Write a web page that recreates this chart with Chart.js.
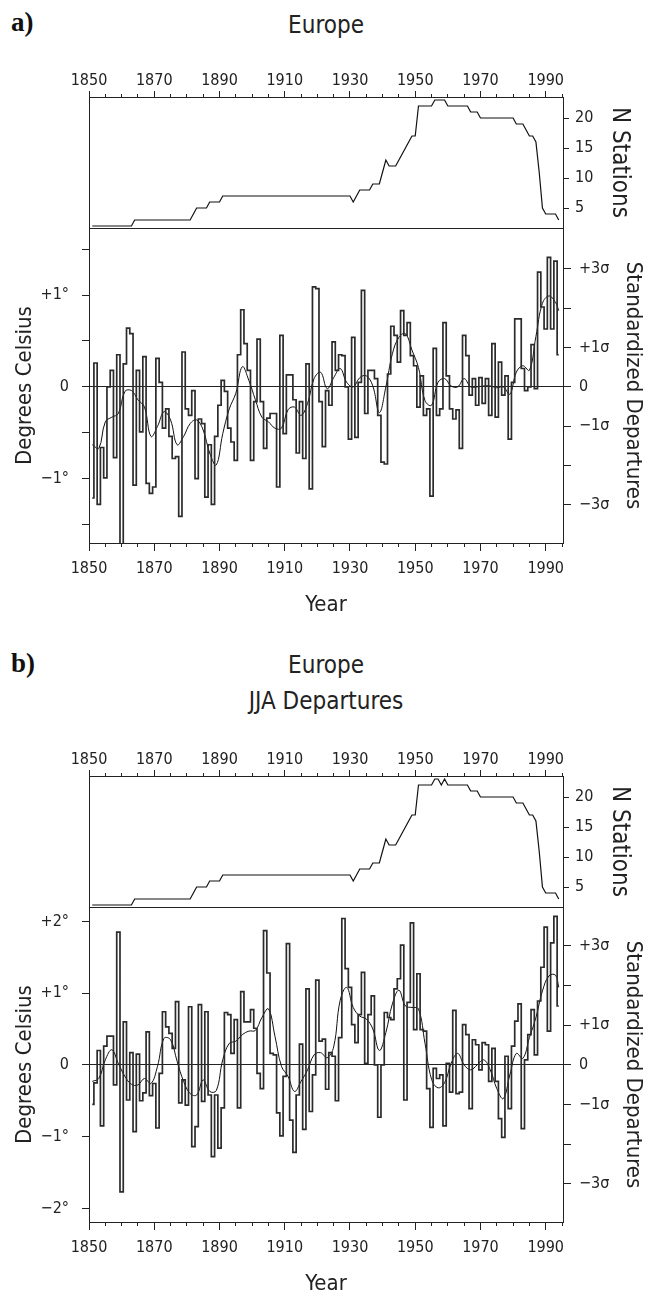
<!DOCTYPE html>
<html>
<head>
<meta charset="utf-8">
<script src="https://cdn.jsdelivr.net/npm/chart.js@4.4.1/dist/chart.umd.min.js"></script>
<style>
  html, body { margin: 0; padding: 0; background: #fff; overflow: hidden; }
  body { width: 648px; height: 1297px; position: relative; }
  canvas { position: absolute; left: 0; }
  .txt { position: absolute; color: #222; font-family: 'Liberation Sans Narrow', 'DejaVu Sans Condensed', sans-serif; white-space: nowrap; line-height: 1; transform: translate(-50%, -50%); }
  .tag { position: absolute; color: #111; font-family: 'Liberation Serif', serif; font-weight: bold; font-size: 27px; line-height: 1; transform: translateY(-50%); }
</style>
</head>
<body>
<div class="tag" style="left:11px; top:22px">a)</div>
<div class="txt" style="left:326px; top:25px; font-size:24px">Europe</div>
<canvas id="nA" width="648" height="175" style="top:55px"></canvas>
<canvas id="tA" width="648" height="400" style="top:220px"></canvas>

<div class="tag" style="left:11px; top:663px">b)</div>
<div class="txt" style="left:326px; top:665px; font-size:24px">Europe</div>
<div class="txt" style="left:326px; top:701px; font-size:24px">JJA Departures</div>
<canvas id="nB" width="648" height="175" style="top:734px"></canvas>
<canvas id="tB" width="648" height="400" style="top:899px"></canvas>

<script>
const FONT = "'Liberation Sans Narrow', 'DejaVu Sans Condensed', 'Liberation Sans', sans-serif";
const INK = '#222';

// years run 1851..1994, one value per year
const firstYear = 1851;
const xMin = 1850;
const xMax = 1995.3;

const yearLabels = [1850, 1870, 1890, 1910, 1930, 1950, 1970, 1990];
const yearMinor = [1850, 1855, 1860, 1865, 1870, 1875, 1880, 1885, 1890, 1895,
                   1900, 1905, 1910, 1915, 1920, 1925, 1930, 1935, 1940, 1945,
                   1950, 1955, 1960, 1965, 1970, 1975, 1980, 1985, 1990, 1995];

const nTicks = [5, 10, 15, 20];
const nLabels = ['5', '10', '15', '20'];
const nMin = 1.67;
const nMax = 23.5;

const degTicksA = [-1.5, -1, -0.5, 0, 0.5, 1, 1.5];
const degLabelsA = ['', '\u22121\u00b0', '', '0', '', '+1\u00b0', ''];
const degTicksB = [-2, -1, 0, 1, 2];
const degLabelsB = ['\u22122\u00b0', '\u22121\u00b0', '0', '+1\u00b0', '+2\u00b0'];
const sigmaTicks = [-3, -2, -1, 0, 1, 2, 3];
const sigmaLabels = ['\u22123\u03c3', '', '\u22121\u03c3', '0', '+1\u03c3', '', '+3\u03c3'];

// number of stations, panel a (annual) and panel b (JJA)
const stationsA = [
  2, 2, 2, 2, 2, 2, 2, 2, 2, 2,
  2, 2, 2, 3, 3, 3, 3, 3, 3, 3,
  3, 3, 3, 3, 3, 3, 3, 3, 3, 3,
  3, 4, 5, 5, 5, 5, 6, 6, 6, 6,
  7, 7, 7, 7, 7, 7, 7, 7, 7, 7,
  7, 7, 7, 7, 7, 7, 7, 7, 7, 7,
  7, 7, 7, 7, 7, 7, 7, 7, 7, 7,
  7, 7, 7, 7, 7, 7, 7, 7, 7, 7,
  6, 7, 8, 8, 8, 8, 9, 9, 9, 11,
  13, 12, 12, 12, 13, 14, 15, 16, 17, 17,
  22, 22, 22, 22, 22, 23, 23, 23, 23, 22,
  22, 22, 22, 22, 22, 22, 21, 21, 21, 20,
  20, 20, 20, 20, 20, 20, 20, 20, 20, 20,
  19, 19, 19, 18, 17, 17, 16, 11, 5, 4,
  4, 4, 4, 3
];
const stationsB = [
  2, 2, 2, 2, 2, 2, 2, 2, 2, 2,
  2, 2, 2, 3, 3, 3, 3, 3, 3, 3,
  3, 3, 3, 3, 3, 3, 3, 3, 3, 3,
  3, 4, 5, 5, 5, 5, 6, 6, 6, 6,
  7, 7, 7, 7, 7, 7, 7, 7, 7, 7,
  7, 7, 7, 7, 7, 7, 7, 7, 7, 7,
  7, 7, 7, 7, 7, 7, 7, 7, 7, 7,
  7, 7, 7, 7, 7, 7, 7, 7, 7, 7,
  6, 7, 8, 8, 8, 8, 9, 9, 9, 11,
  13, 12, 12, 12, 13, 14, 15, 16, 17, 17,
  22, 22, 22, 22, 22, 23, 23, 22, 23, 22,
  22, 22, 22, 22, 22, 22, 21, 21, 21, 20,
  20, 20, 20, 20, 20, 20, 20, 20, 20, 20,
  19, 19, 19, 18, 17, 17, 16, 11, 5, 4,
  4, 4, 4, 3
];

// temperature departures, degrees C
const tempA = [
  -1.21, 0.26, -1.28, -0.66, -0.99, 0.00, 0.18, -0.77, 0.35, -1.75,
  0.25, 0.64, 0.58, -1.07, 0.18, -0.49, 0.33, -1.05, -1.16, -1.09,
  0.31, 0.05, -0.45, -0.24, -0.54, -0.78, -0.76, -1.41, 0.38, -0.24,
  -0.31, -0.04, -1.00, -0.35, -0.40, -1.20, -0.63, -1.28, -0.54, -0.20,
  0.07, -0.05, -0.45, -0.60, -0.80, 0.35, 0.84, 0.47, 0.18, -0.80,
  -0.16, 0.52, -0.16, -0.67, -0.34, -0.29, -0.29, -1.09, 0.56, -0.51,
  0.13, 0.13, -0.14, -0.72, -0.16, -0.78, 0.25, -1.11, 1.09, 1.07,
  -0.16, -0.65, -0.04, -0.20, 0.49, 0.18, 0.35, 0.34, 0.00, -0.57,
  0.54, -0.55, 0.05, 1.05, -0.29, 0.18, 0.18, 0.09, -0.31, -0.82,
  -0.84, 0.14, 0.66, 0.56, 0.27, 0.83, 0.56, 0.70, 0.34, 0.23,
  -0.22, 0.12, -0.31, -0.24, -1.19, 0.42, -0.31, -0.24, 0.70, 0.12,
  -0.24, -0.35, -0.25, -0.67, 0.56, 0.34, -0.09, 0.09, -0.20, 0.10,
  -0.18, 0.09, -0.31, 0.47, -0.33, 0.27, -0.09, 0.12, -0.57, 0.05,
  0.74, 0.74, 0.20, -0.04, 0.00, 0.46, -0.02, 1.25, 0.87, 0.63,
  1.41, 0.63, 1.37, 0.35
];
const tempB = [
  -0.55, -0.25, 0.20, -0.85, 0.26, 0.40, 0.40, -0.28, 1.85, -1.77,
  0.60, -0.49, 0.17, -0.93, 0.15, -0.50, -0.39, 0.46, -0.43, -0.26,
  -0.88, -0.12, 0.74, 0.53, 0.44, 0.23, 0.88, -0.53, -0.21, -0.56,
  0.81, -1.14, -0.86, 0.84, -0.51, 0.74, -0.42, -1.28, -0.42, -1.16,
  -0.60, 0.73, 0.70, 0.16, 0.63, -0.60, 1.02, 0.60, 0.60, 0.77,
  0.51, -0.12, -0.33, 1.87, 1.28, 0.16, 0.14, -0.67, -0.99, -0.16,
  1.69, -0.77, -1.22, -0.42, 0.29, -0.90, 1.06, -0.65, -0.14, 1.18,
  0.33, 0.36, -0.34, 0.17, 0.12, -0.50, 0.38, 2.04, 1.34, 1.08,
  0.56, 0.31, 0.70, 1.29, 0.02, 0.70, 0.96, 0.00, -0.73, 0.00,
  0.73, 0.66, 0.63, 1.06, 1.20, 1.67, -0.49, 0.87, 1.98, 0.49,
  1.27, 0.49, 0.47, -0.33, -0.87, -0.05, -0.19, -0.14, -0.85, 0.02,
  -0.38, 0.76, -0.40, -0.38, 0.56, 0.42, -0.61, 0.35, 0.28, -0.07,
  0.31, 0.28, -0.23, 0.23, -0.23, -0.75, -1.01, 0.12, -0.61, 0.26,
  0.61, 0.85, -0.89, 0.07, 0.42, 0.77, 0.14, 0.89, 1.36, 1.92,
  0.47, 1.70, 2.07, 0.82
];

// smoothed curve
const smoothYears = [
  1851, 1853, 1855, 1857, 1859, 1861, 1863, 1865, 1867, 1869,
  1871, 1873, 1875, 1877, 1879, 1881, 1883, 1885, 1887, 1889,
  1891, 1893, 1895, 1897, 1899, 1901, 1903, 1905, 1907, 1909,
  1911, 1913, 1915, 1917, 1919, 1921, 1923, 1925, 1927, 1929,
  1931, 1933, 1935, 1937, 1939, 1941, 1943, 1945, 1947, 1949,
  1951, 1953, 1955, 1957, 1959, 1961, 1963, 1965, 1967, 1969,
  1971, 1973, 1975, 1977, 1979, 1981, 1983, 1985, 1987, 1989,
  1991, 1993, 1994
];
const smoothA = [
  -0.63, -0.67, -0.38, -0.33, -0.29, -0.05, -0.04, -0.14, -0.22, -0.54,
  -0.43, -0.27, -0.36, -0.63, -0.54, -0.40, -0.36, -0.47, -0.72, -0.85,
  -0.51, -0.24, -0.07, 0.22, 0.07, -0.14, -0.33, -0.38, -0.45, -0.45,
  -0.25, -0.22, -0.31, -0.18, 0.09, 0.16, -0.02, 0.10, 0.20, 0.05,
  0.00, 0.10, 0.12, 0.01, -0.28, 0.00, 0.36, 0.54, 0.58, 0.40,
  0.21, -0.15, -0.20, 0.05, 0.09, 0.01, 0.00, 0.09, 0.00, 0.00,
  0.01, 0.01, -0.01, 0.00, -0.08, 0.16, 0.23, 0.18, 0.55, 0.91,
  0.99, 0.92, 0.83
];
const smoothB = [
  -0.23, -0.19, 0.07, 0.21, 0.02, -0.16, -0.27, -0.28, -0.19, -0.26,
  -0.02, 0.37, 0.35, 0.05, -0.23, -0.40, -0.42, -0.21, -0.37, -0.36,
  0.07, 0.30, 0.33, 0.42, 0.47, 0.48, 0.66, 0.78, 0.40, -0.02,
  -0.16, -0.37, -0.23, -0.07, 0.14, 0.17, 0.10, 0.25, 0.90, 1.08,
  0.80, 0.68, 0.64, 0.50, 0.20, 0.45, 0.85, 1.04, 0.82, 0.80,
  0.78, 0.30, -0.20, -0.32, -0.25, 0.02, 0.16, 0.00, -0.07, 0.00,
  0.07, -0.07, -0.33, -0.47, -0.14, 0.16, 0.09, 0.38, 0.66, 1.03,
  1.24, 1.25, 1.08
];

function points(values) {
  return values.map((v, i) => ({ x: firstYear + i, y: v }));
}

function pairs(xs, ys) {
  return xs.map((x, i) => ({ x: x, y: ys[i] }));
}

// keep label overhang from pushing the plot area around
function noPad(s) {
  s.paddingTop = 0; s.paddingBottom = 0; s.paddingLeft = 0; s.paddingRight = 0;
}
function fixWidth(w) { return s => { s.width = w; noPad(s); }; }
function fixHeight(h) { return s => { s.height = h; noPad(s); }; }
function setTicks(list) { return s => { s.ticks = list.map(v => ({ value: v })); }; }

function tickFont() { return { family: FONT, size: 16 }; }
function titleFont(size) { return { family: FONT, size: size }; }

const common = {
  responsive: false,
  animation: false,
  devicePixelRatio: 1,
  plugins: { legend: { display: false }, tooltip: { enabled: false } }
};

function drawStations(id, values) {
  new Chart(document.getElementById(id), {
    type: 'line',
    data: {
      datasets: [{
        data: points(values),
        borderColor: '#111',
        borderWidth: 1.2,
        pointRadius: 0,
        tension: 0,
        xAxisID: 'x',
        yAxisID: 'yN'
      }]
    },
    options: Object.assign({}, common, {
      layout: { padding: { top: 0, bottom: 2, left: 0, right: 0 } },
      scales: {
        x: {
          type: 'linear', position: 'top', min: xMin, max: xMax,
          afterBuildTicks: setTicks(yearLabels), afterFit: fixHeight(42),
          grid: { drawOnChartArea: false, tickLength: 6, tickColor: INK },
          border: { color: INK, width: 1 },
          ticks: { color: INK, font: tickFont(), padding: 1, maxRotation: 0, autoSkip: false,
                   callback: v => String(v) }
        },
        xMinor: {
          type: 'linear', axis: 'x', position: { yN: nMax }, min: xMin, max: xMax,
          afterBuildTicks: setTicks(yearMinor), afterFit: noPad,
          grid: { drawOnChartArea: false, tickLength: -3, tickColor: INK },
          border: { display: false },
          ticks: { display: false }
        },
        xBottom: {
          type: 'linear', position: 'bottom', min: xMin, max: xMax, afterFit: fixHeight(0),
          grid: { drawOnChartArea: false, drawTicks: false },
          border: { color: INK, width: 1 },
          ticks: { display: false }
        },
        yL: {
          type: 'linear', position: 'left', min: nMin, max: nMax, afterFit: fixWidth(89),
          grid: { drawOnChartArea: false, drawTicks: false },
          border: { color: INK, width: 1 },
          ticks: { display: false }
        },
        yN: {
          type: 'linear', position: 'right', min: nMin, max: nMax, afterFit: fixWidth(85),
          afterBuildTicks: setTicks(nTicks),
          grid: { drawOnChartArea: false, tickLength: 6, tickColor: INK },
          border: { color: INK, width: 1 },
          ticks: { color: INK, font: tickFont(), padding: 6, callback: (v, i) => nLabels[i] },
          title: { display: true, text: 'N Stations', color: INK, font: titleFont(24), padding: { top: 14 } }
        }
      }
    })
  });
}

function drawTemps(id, values, smooth, yMin, yMax, sigma, degTicks, degLabels) {
  new Chart(document.getElementById(id), {
    type: 'line',
    data: {
      datasets: [{
        data: points(values),
        stepped: 'middle',
        borderColor: '#2b2b2b',
        borderWidth: 1.7,
        pointRadius: 0,
        xAxisID: 'x',
        yAxisID: 'y'
      }, {
        data: pairs(smoothYears, smooth),
        borderColor: '#111',
        borderWidth: 1,
        pointRadius: 0,
        tension: 0.4,
        xAxisID: 'x',
        yAxisID: 'y'
      }]
    },
    options: Object.assign({}, common, {
      layout: { padding: { top: 8, bottom: 0, left: 0, right: 0 } },
      scales: {
        x: {
          type: 'linear', position: 'bottom', min: xMin, max: xMax,
          afterBuildTicks: setTicks(yearLabels), afterFit: fixHeight(77),
          grid: { drawOnChartArea: false, tickLength: 8, tickColor: INK },
          border: { color: INK, width: 1 },
          ticks: { color: INK, font: tickFont(), padding: 8, maxRotation: 0, autoSkip: false,
                   callback: v => String(v) },
          title: { display: true, text: 'Year', color: INK, font: titleFont(22), padding: { top: 0, bottom: 2 } }
        },
        xMinor: {
          type: 'linear', axis: 'x', position: { y: yMin }, min: xMin, max: xMax,
          afterBuildTicks: setTicks(yearMinor), afterFit: noPad,
          grid: { drawOnChartArea: false, tickLength: 4, tickColor: INK },
          border: { display: false },
          ticks: { display: false }
        },
        y: {
          type: 'linear', position: 'left', min: yMin, max: yMax, afterFit: fixWidth(89),
          afterBuildTicks: setTicks(degTicks),
          grid: {
            color: c => (c.tick && c.tick.value === 0 ? INK : 'rgba(0,0,0,0)'),
            tickColor: INK, tickLength: 7, lineWidth: 1
          },
          border: { color: INK, width: 1 },
          ticks: { color: INK, font: tickFont(), padding: 13, callback: (v, i) => degLabels[i] },
          title: { display: true, text: 'Degrees Celsius', color: INK, font: titleFont(22), padding: { top: 12 } }
        },
        y2: {
          type: 'linear', position: 'right', min: yMin / sigma, max: yMax / sigma, afterFit: fixWidth(85),
          afterBuildTicks: setTicks(sigmaTicks),
          grid: { drawOnChartArea: false, tickLength: 8, tickColor: INK },
          border: { color: INK, width: 1 },
          ticks: { color: INK, font: tickFont(), padding: 8, callback: (v, i) => sigmaLabels[i] },
          title: { display: true, text: 'Standardized Departures', color: INK, font: titleFont(22), padding: { top: 2 } }
        }
      }
    })
  });
}

drawStations('nA', stationsA);
drawTemps('tA', tempA, smoothA, -1.70, 1.73, 0.428, degTicksA, degLabelsA);
drawStations('nB', stationsB);
drawTemps('tB', tempB, smoothB, -2.19, 2.20, 0.553, degTicksB, degLabelsB);
</script>
</body>
</html>
